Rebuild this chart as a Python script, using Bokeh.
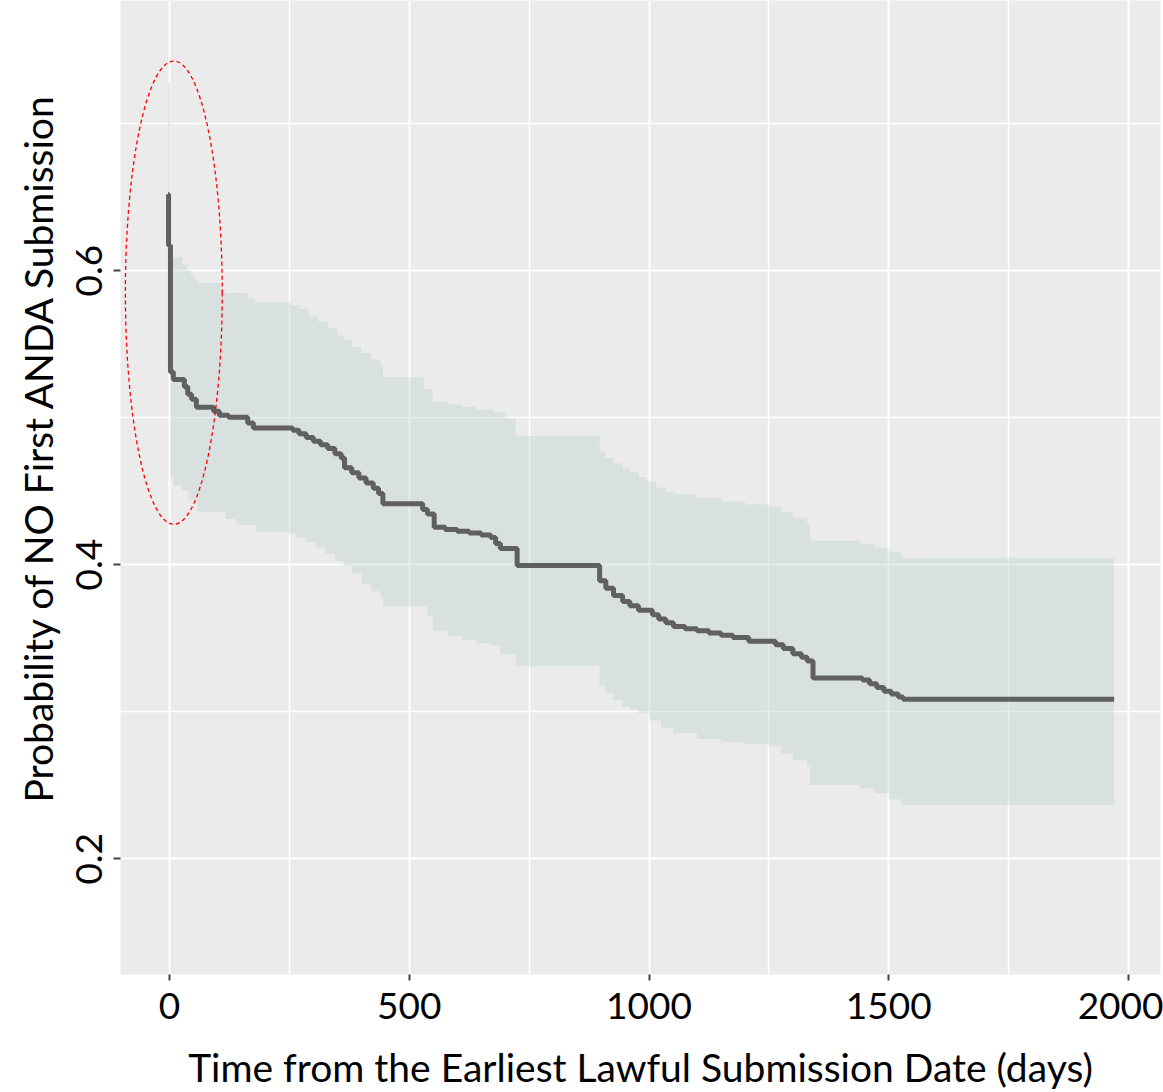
import numpy as np
from bokeh.plotting import figure
from bokeh.models import Range1d, FixedTicker, Title
from bokeh.embed import file_html
from bokeh.resources import INLINE

# Kaplan-Meier estimate (time in days, probability after the event)
curve_t = [-3, -2, 2, 8, 31, 38, 46, 56, 92, 104, 123, 163, 175, 257, 270, 285,
           300, 315, 330, 345, 358, 365, 380, 395, 410, 425, 436, 445, 528, 538,
           552, 575, 600, 625, 650, 670, 680, 690, 725, 897, 910, 926, 945, 960,
           978, 1007, 1020, 1035, 1051, 1075, 1100, 1125, 1150, 1175, 1208, 1264,
           1280, 1300, 1318, 1330, 1342, 1445, 1460, 1475, 1490, 1505, 1520, 1530,
           1970]
curve_s = [0.652, 0.617, 0.531, 0.526, 0.521, 0.516, 0.5125, 0.507, 0.5044, 0.5017,
           0.5003, 0.4963, 0.4929, 0.4915, 0.489, 0.4865, 0.484, 0.4815, 0.479,
           0.4755, 0.4725, 0.466, 0.4625, 0.459, 0.4555, 0.452, 0.4485, 0.4415,
           0.4375, 0.4345, 0.4255, 0.424, 0.4228, 0.4215, 0.4202, 0.4185, 0.4145,
           0.411, 0.3995, 0.389, 0.384, 0.379, 0.375, 0.372, 0.369, 0.366, 0.363,
           0.3605, 0.358, 0.3565, 0.355, 0.3535, 0.352, 0.3505, 0.348, 0.3455,
           0.343, 0.3395, 0.337, 0.3345, 0.323, 0.3215, 0.319, 0.3165, 0.314,
           0.312, 0.31, 0.3085, 0.3085]

# Upper confidence limit
upper_t = [-3, 2, 27, 37, 45, 53, 60, 106, 115, 163, 178, 252, 270, 290, 310, 330,
           350, 363, 380, 400, 420, 440, 445, 530, 549, 580, 610, 640, 676, 700,
           722, 897, 910, 925, 945, 960, 978, 995, 1015, 1035, 1051, 1100, 1150,
           1200, 1250, 1275, 1300, 1330, 1336, 1441, 1470, 1500, 1527, 1970]
upper_s = [0.728, 0.609, 0.604, 0.600, 0.597, 0.594, 0.5915, 0.5875, 0.585, 0.581,
           0.5785, 0.5765, 0.574, 0.5695, 0.5655, 0.561, 0.556, 0.553, 0.548,
           0.544, 0.5395, 0.535, 0.5275, 0.5195, 0.511, 0.509, 0.5075, 0.5055,
           0.5035, 0.4995, 0.4875, 0.477, 0.4725, 0.469, 0.4655, 0.463, 0.4597,
           0.4565, 0.4525, 0.4495, 0.448, 0.4455, 0.443, 0.441, 0.4395, 0.4355,
           0.432, 0.4275, 0.4163, 0.414, 0.4115, 0.4085, 0.4047, 0.4047]

# Lower confidence limit
lower_t = [-3, 2, 8, 25, 40, 58, 117, 140, 180, 248, 265, 285, 305, 325, 345, 363,
           380, 400, 420, 440, 445, 538, 549, 580, 610, 640, 669, 690, 722, 897,
           910, 925, 945, 960, 978, 1000, 1025, 1051, 1100, 1150, 1200, 1249, 1275,
           1300, 1330, 1336, 1441, 1470, 1500, 1527, 1970]
lower_s = [0.575, 0.4603, 0.4536, 0.4505, 0.4445, 0.436, 0.431, 0.427, 0.4224,
           0.421, 0.4185, 0.4155, 0.4115, 0.4075, 0.4025, 0.3993, 0.394, 0.387,
           0.382, 0.377, 0.3715, 0.3655, 0.355, 0.3515, 0.349, 0.3465, 0.345,
           0.339, 0.331, 0.3173, 0.3125, 0.308, 0.3035, 0.3015, 0.299, 0.294,
           0.289, 0.2854, 0.2815, 0.2795, 0.278, 0.2766, 0.2715, 0.267, 0.2634,
           0.2502, 0.248, 0.2445, 0.2405, 0.2366, 0.2366]

x_ticks = [0, 500, 1000, 1500, 2000]
x_minor = [250, 750, 1250, 1750]
y_ticks = [0.2, 0.4, 0.6]
y_minor = [0.3, 0.5, 0.7]

# Highlighted region (ellipse): centre, width, height
ell_x, ell_y, ell_w, ell_h = 9.0, 0.585, 202, 0.315

FONT = "Lato"

p = figure(width=1163, height=1092, output_backend="svg", toolbar_location=None,
           x_range=Range1d(-102.2, 2066.7), y_range=Range1d(0.1213, 0.7837),
           min_border_left=120, min_border_right=3, min_border_top=0,
           min_border_bottom=115)
p.background_fill_color = "#ebebeb"
p.border_fill_color = "white"
p.outline_line_color = None

p.xaxis.ticker = FixedTicker(ticks=x_ticks, minor_ticks=x_minor)
p.yaxis.ticker = FixedTicker(ticks=y_ticks, minor_ticks=y_minor)

for g in (p.xgrid, p.ygrid):
    g.grid_line_color = "white"
    g.grid_line_width = 2
    g.minor_grid_line_color = "white"
    g.minor_grid_line_width = 1.5

for ax in (p.xaxis, p.yaxis):
    ax.axis_line_color = None
    ax.major_tick_line_color = "#444444"
    ax.major_tick_line_width = 2
    ax.major_tick_in = 0
    ax.minor_tick_out = 0
    ax.minor_tick_in = 0
    ax.major_label_text_font = FONT
    ax.major_label_text_font_size = "37px"
    ax.major_label_text_color = "black"
    ax.axis_label_text_font = FONT
    ax.axis_label_text_font_size = "39px"
    ax.axis_label_text_font_style = "normal"
    ax.axis_label_text_color = "black"

p.xaxis.axis_label = "Time from the Earliest Lawful Submission Date (days)"
p.yaxis.major_label_orientation = "vertical"
p.xaxis.major_tick_out = 6
p.yaxis.major_tick_out = 7
p.xaxis.major_label_standoff = 12
p.xaxis.axis_label_standoff = 22
p.yaxis.major_label_standoff = 11

ytitle = Title(text="Probability  of NO First ANDA Submission", align="left",
               offset=172, standoff=22, vertical_align="top", text_font=FONT,
               text_font_size="39px", text_font_style="normal", text_color="black")
p.add_layout(ytitle, "left")

# merge band times and forward-fill the limits
band_t = np.union1d(upper_t, lower_t)
ui = np.searchsorted(upper_t, band_t, side="right") - 1
li = np.searchsorted(lower_t, band_t, side="right") - 1
band_up = np.asarray(upper_s)[ui]
band_lo = np.asarray(lower_s)[li]

p.varea_step(x=band_t, y1=band_lo, y2=band_up, step_mode="after",
             fill_color="#bed0d0", fill_alpha=0.4)
p.step(curve_t, curve_s, mode="after", line_color="#606060", line_width=5)
p.ellipse(x=[ell_x], y=[ell_y], width=ell_w, height=ell_h, fill_color=None,
          line_color="red", line_dash="4 3", line_width=1.3)

open("out.html", "w").write(file_html(p, INLINE))
